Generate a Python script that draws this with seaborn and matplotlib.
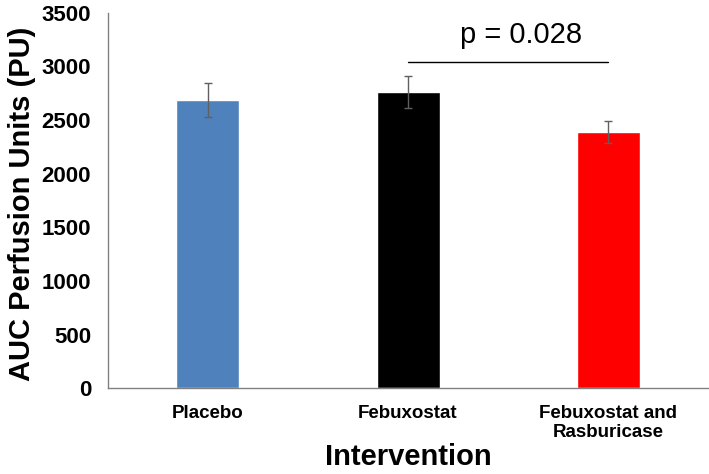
import matplotlib
matplotlib.use('Agg')
import matplotlib.pyplot as plt
import numpy as np
import pandas as pd
import seaborn as sns

# values
groups = ['Placebo', 'Febuxostat', 'Febuxostat and\nRasburicase']
auc_mean = [2685, 2760, 2390]
auc_err = [160, 150, 100]
bar_colors = ['#4f81bd', '#000000', '#ff0000']
p_text = 'p = 0.028'
p_level = 3040
p_pair = (1, 2)

df = pd.DataFrame({'group': groups, 'auc': auc_mean})

sns.set_style('white')
plt.rcParams['font.family'] = ['Liberation Sans', 'DejaVu Sans']
plt.rcParams['text.color'] = 'black'
plt.rcParams['axes.labelcolor'] = 'black'
plt.rcParams['xtick.color'] = 'black'
plt.rcParams['ytick.color'] = 'black'

fig = plt.figure(figsize=(7.09, 4.74), dpi=100)
ax = fig.add_axes([0.152, 0.181, 0.847, 0.792])

sns.barplot(data=df, x='group', y='auc', hue='group', palette=bar_colors,
            width=0.315, legend=False, ax=ax, saturation=1)
ax.errorbar(np.arange(len(groups)), auc_mean, yerr=auc_err, fmt='none',
            ecolor='#606060', elinewidth=1, capsize=3, capthick=1)

# significance bracket
ax.plot(list(p_pair), [p_level, p_level], color='black', lw=1)
ax.text(np.mean(p_pair) + 0.065, 3290, p_text, ha='center', va='center', fontsize=21)

ax.set_xlim(-0.5, 2.5)
ax.set_ylim(0, 3500)
ax.set_yticks(np.arange(0, 3501, 500))
ax.tick_params(axis='both', length=0)
for lab in ax.get_yticklabels():
    lab.set_fontweight('bold')
    lab.set_fontsize(16)
for lab in ax.get_xticklabels():
    lab.set_fontweight('bold')
    lab.set_fontsize(13.5)
ax.tick_params(axis='y', pad=12)
ax.tick_params(axis='x', pad=12)

ax.set_xlabel('Intervention', fontsize=21, fontweight='bold')
ax.set_ylabel('AUC Perfusion Units (PU)', fontsize=21, fontweight='bold')
ax.xaxis.set_label_coords(0.5, -0.145)
ax.yaxis.set_label_coords(-0.12, 0.49)

sns.despine(ax=ax)
for side in ['left', 'bottom']:
    ax.spines[side].set_color('#808080')
    ax.spines[side].set_linewidth(1)

fig.savefig('out.png', dpi=100)
